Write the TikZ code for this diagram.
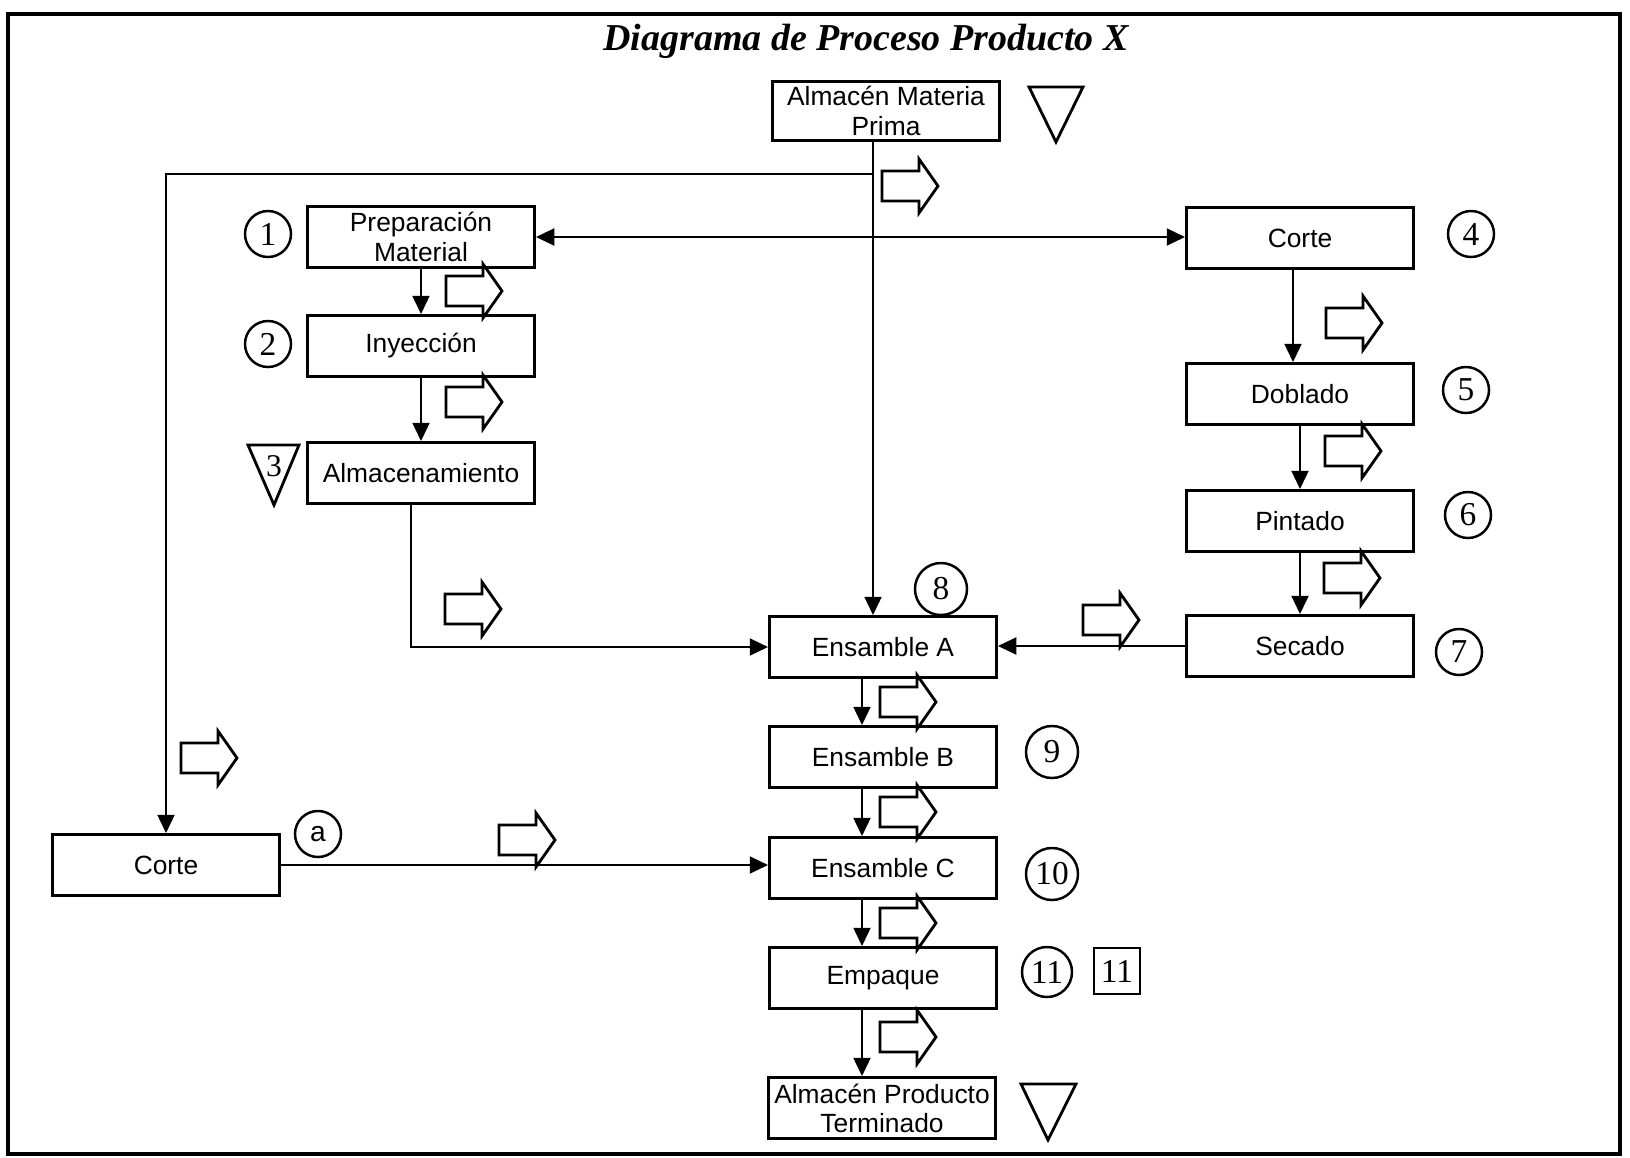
\documentclass[tikz,border=0pt]{standalone}
\usepackage{fontspec}
\setmainfont{Liberation Serif}
\setsansfont{Liberation Sans}
\usetikzlibrary{arrows.meta,positioning}

\begin{document}
\begin{tikzpicture}[x=0.01cm,y=-0.01cm,
        >={Triangle[length=5.2pt,width=4.8pt]},
        caja/.style={draw,line width=0.8pt,minimum width=2.27cm,minimum height=0.61cm,
            inner sep=1pt,align=center,font=\sffamily\fontsize{7.5}{8.3}\selectfont},
        num/.style={draw,circle,line width=0.7pt,minimum size=0.46cm,inner sep=0pt,
            font=\fontsize{9.5}{9.5}\selectfont},
        cuad/.style={draw,line width=0.7pt,minimum size=0.46cm,inner sep=0pt,
            font=\fontsize{9.5}{9.5}\selectfont},
        flujo/.style={line width=0.7pt},
        pics/avance/.style={code={
            \draw[line width=0.8pt,fill=white] (-28,-15) -- (9,-15) -- (9,-27) -- (28,0)
                -- (9,27) -- (9,15) -- (-28,15) -- cycle;}}]
    \useasboundingbox (0,0) rectangle (1630,1157);
    \draw[line width=1pt] (8,14) rectangle (1620,1154);

    \node[font=\bfseries\itshape\fontsize{10.8}{13}\selectfont] (titulo) at (866,41) {Diagrama de Proceso Producto X};

    % cajas
    \node[caja,minimum height=0.59cm,inner ysep=0pt] (amp) at (886,111) {Almacén Materia\\Prima};
    \node[caja,inner ysep=0pt] (prep) at (421,237) {Preparación\\Material};
    \node[caja] (iny) at (421,346) {Inyección};
    \node[caja] (alm) at (421,473) {Almacenamiento};
    \node[caja] (corteD) at (1300,238) {Corte};
    \node[caja] (dob) at (1300,394) {Doblado};
    \node[caja] (pin) at (1300,521) {Pintado};
    \node[caja] (sec) at (1300,646) {Secado};
    \node[caja] (ensA) at (883,647) {Ensamble A};
    \node[caja] (ensB) at (883,757) {Ensamble B};
    \node[caja] (ensC) at (883,868) {Ensamble C};
    \node[caja] (emp) at (883,978) {Empaque};
    \node[caja,inner ysep=0pt] (apt) at (882,1108) {Almacén Producto\\Terminado};
    \node[caja] (corteI) at (166,865) {Corte};

    % numeros
    \node[num] (n1) at (268,234) {1};
    \node[num] (n2) at (268,344) {2};
    \node[num] (n4) at (1471,234) {4};
    \node[num] (n5) at (1466,390) {5};
    \node[num] (n6) at (1468,515) {6};
    \node[num] (n7) at (1459,652) {7};
    \node[num,minimum size=0.52cm] (n8) at (941,589) {8};
    \node[num,minimum size=0.52cm] (n9) at (1052,752) {9};
    \node[num,minimum size=0.52cm] (n10) at (1052,874) {10};
    \node[num,minimum size=0.5cm] (n11) at (1047,972) {11};
    \node[cuad] (c11) at (1117,971) {11};
    \node[num,font=\sffamily\fontsize{8}{9}\selectfont] (na) at (318,834) {a};

    % almacenes
    \draw[line width=0.8pt] (1029,87) -- (1083,87) -- (1056,142) -- cycle;
    \draw[line width=0.8pt] (1021,1084) -- (1076,1084) -- (1048,1140) -- cycle;
    \draw[line width=0.8pt] (248,445) -- (299,445) -- (274,505) -- cycle;
    \node[font=\fontsize{9}{9}\selectfont] (n3) at (274,466) {3};

    % flujo
    \coordinate (cruce) at (873,174);
    \draw[flujo,->] (amp.south -| cruce) -- (ensA.north -| cruce);
    \draw[flujo,->] (cruce) -| (corteI.north);
    \draw[flujo,<->] (prep.east) -- (prep.east -| corteD.west);
    \draw[flujo,->] (prep.south) -- (iny.north);
    \draw[flujo,->] (iny.south) -- (alm.north);
    \draw[flujo,->] ([xshift=-0.1cm]alm.south) |- (ensA.west);
    \draw[flujo,->] ([xshift=-0.07cm]corteD.south) -- ([xshift=-0.07cm]dob.north);
    \draw[flujo,->] (dob.south) -- (pin.north);
    \draw[flujo,->] (pin.south) -- (sec.north);
    \draw[flujo,->] (sec.west) -- (sec.west -| ensA.east);
    \foreach \a/\b in {ensA/ensB,ensB/ensC,ensC/emp,emp/apt}
        \draw[flujo,->] ([xshift=-0.21cm]\a.south) -- ([xshift=-0.21cm]\a.south |- \b.north);
    \draw[flujo,->] (corteI.east) -- (corteI.east -| ensC.west);

    \foreach \x/\y in {910/186,474/291,474/402,473/609,1354/323,1353/451,1352/578,
            1111/620,908/702,908/812,908/923,908/1037,209/758,527/840}
        \pic at (\x,\y) {avance};
\end{tikzpicture}
\end{document}
